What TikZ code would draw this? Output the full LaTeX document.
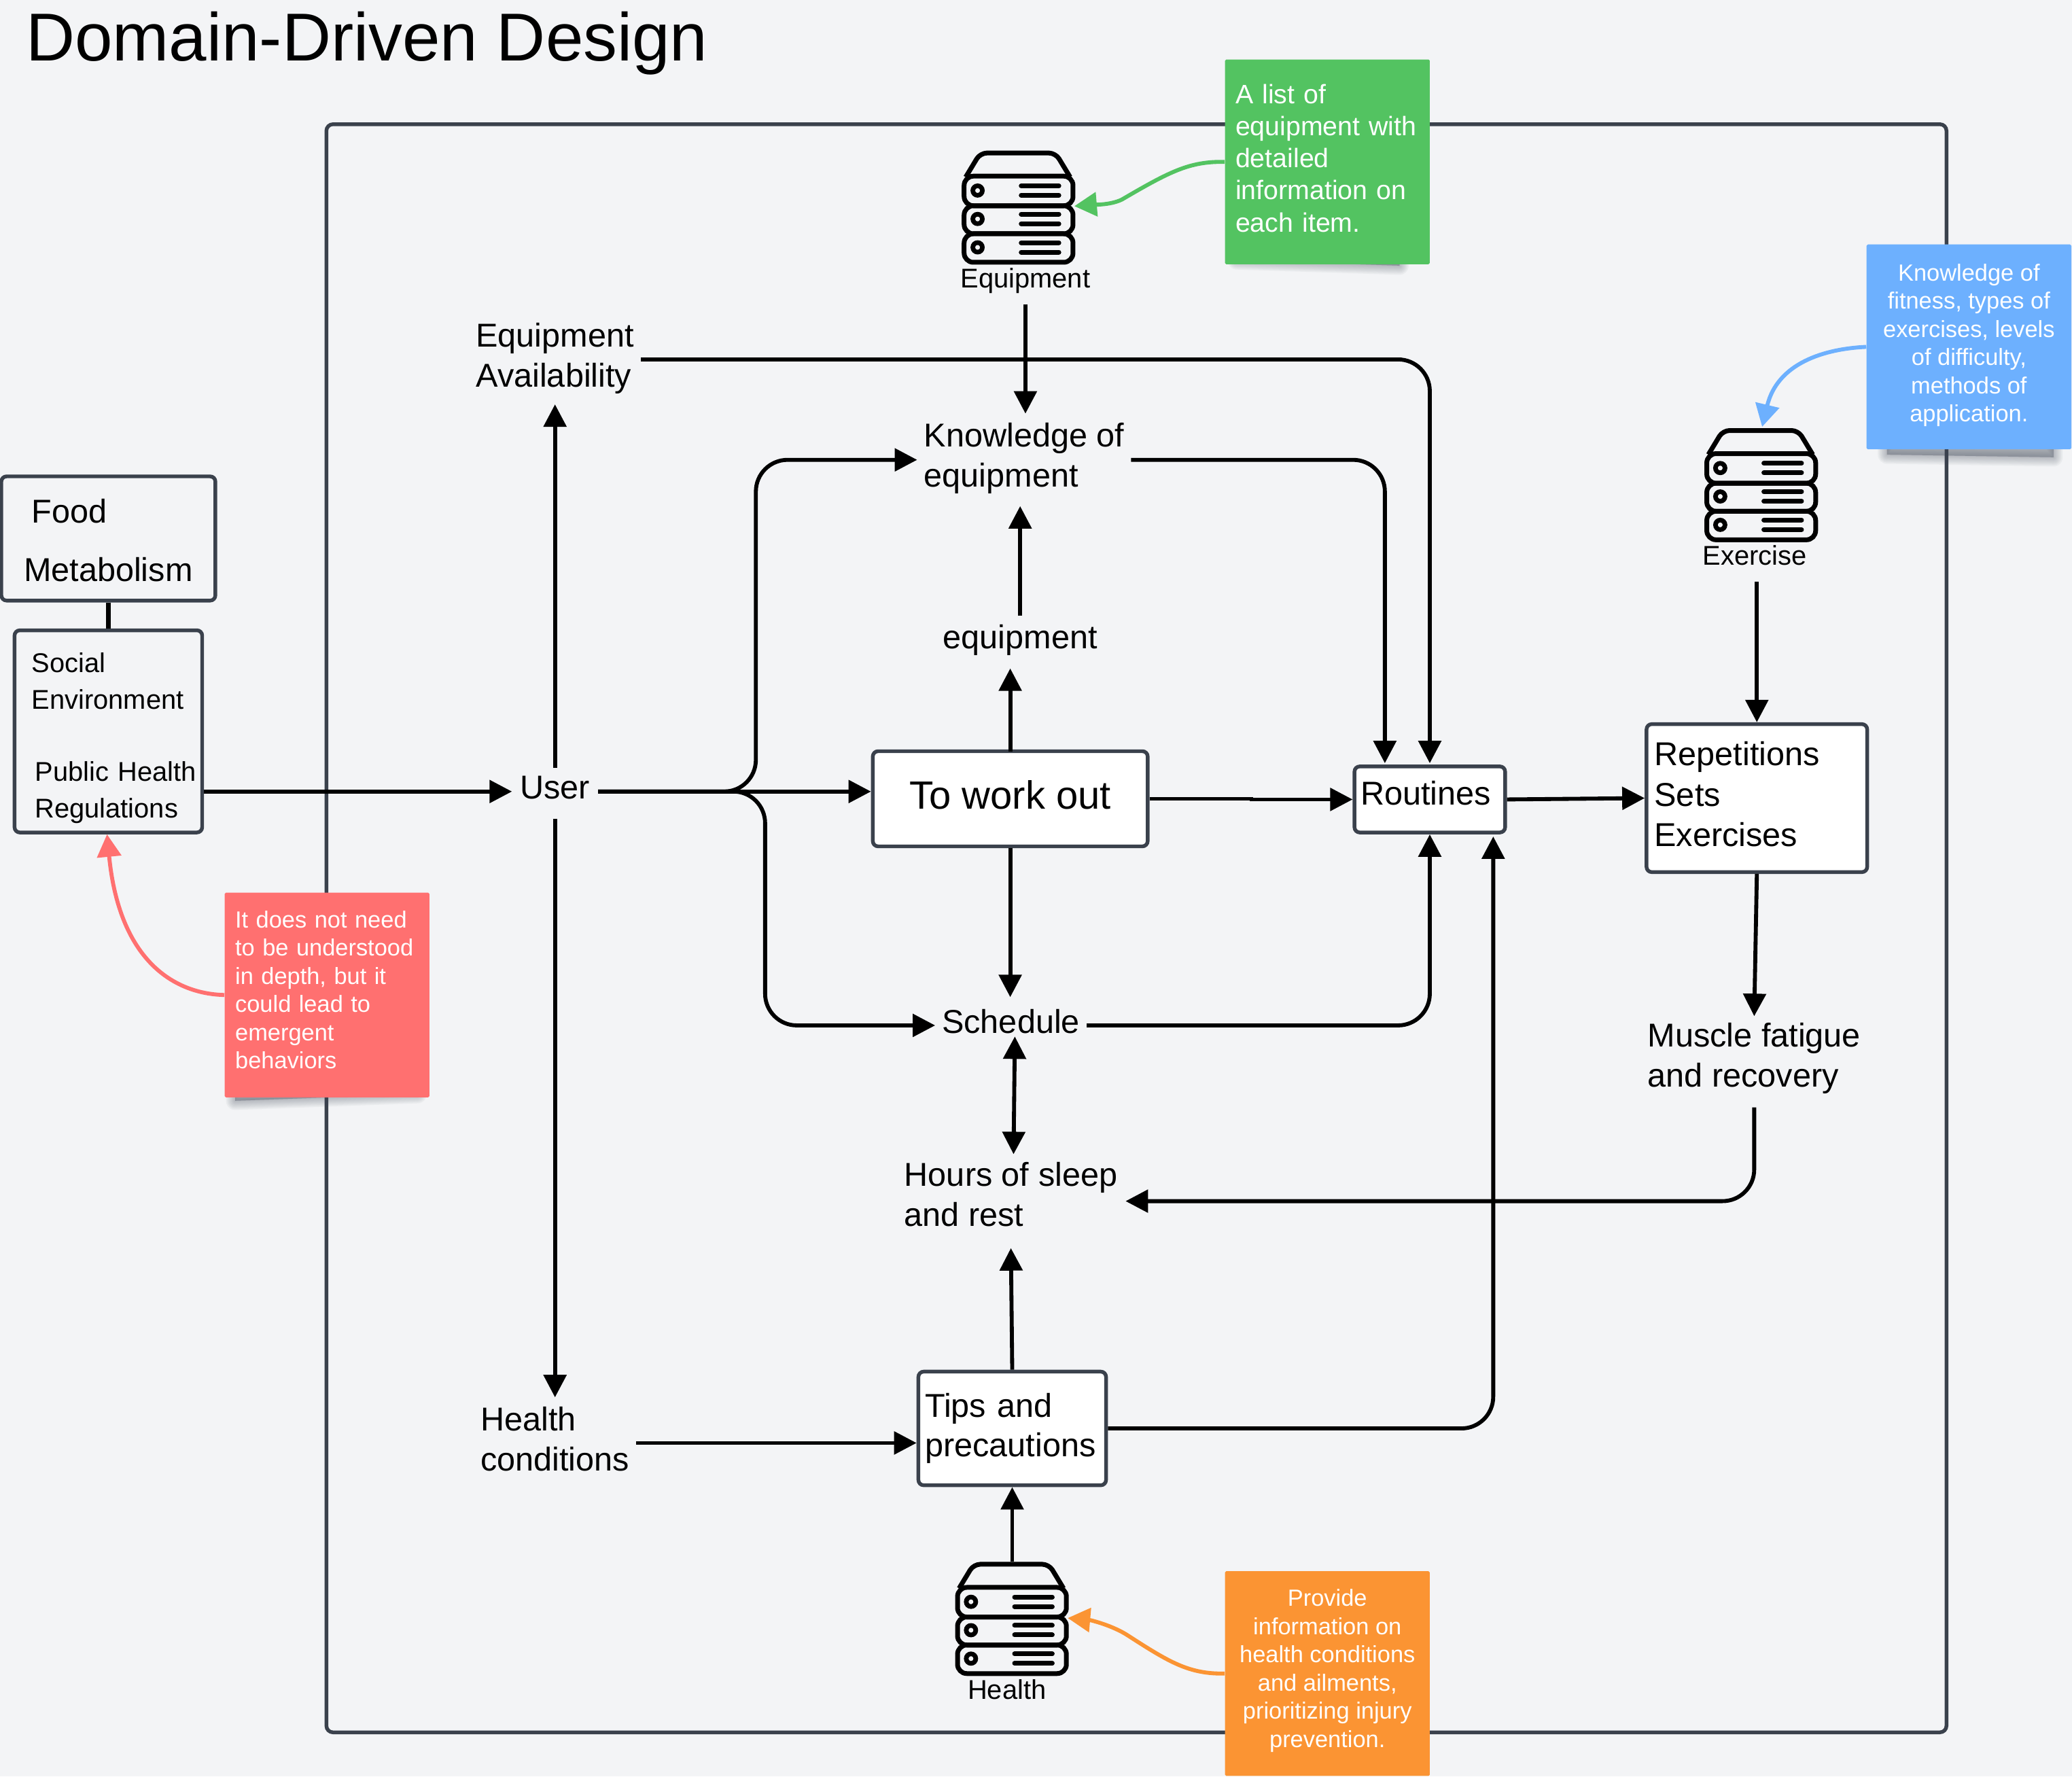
\documentclass[tikz,border=0pt]{standalone}
\usepackage{fontspec}
\setmainfont{Liberation Sans}
\usetikzlibrary{arrows.meta,calc}
\definecolor{bgc}{HTML}{F3F4F6}
\definecolor{framec}{HTML}{3A414C}
\definecolor{noteg}{HTML}{53C361}
\definecolor{noteb}{HTML}{6DB0FE}
\definecolor{noter}{HTML}{FF7070}
\definecolor{noteo}{HTML}{FB9433}
\definecolor{shadowc}{HTML}{4A5260}
\newcommand{\fsz}[2]{\fontsize{#1}{#2}\selectfont}
\newcommand{\dropdepth}[1]{\rule[-#1]{0pt}{1pt}}
\tikzset{
  conn/.style={line width=3pt,draw=black,-{Triangle[length=17pt,width=17pt]},rounded corners=24pt},
  plain/.style={line width=3.2pt,draw=black},
  both/.style={conn,{Triangle[length=17pt,width=17pt]}-{Triangle[length=17pt,width=17pt]}},
  lbl/.style={inner sep=0pt,align=left,font=\fsz{25}{30.3}},
  smalllbl/.style={inner sep=0pt,align=center,font=\fsz{20.5}{24}},
  boxn/.style={draw=framec,line width=2.8pt,rounded corners=4pt,fill=white,inner sep=0pt,align=left},
  hollow/.style={boxn,fill=bgc},
  note/.style={inner sep=0pt,minimum width=155pt,minimum height=155pt,text=white,rounded corners=1pt},
  notearrow/.style={line width=3pt,-{Triangle[length=17pt,width=18pt]}},
  pics/server/.style={code={
    \node[inner sep=0pt,minimum width=86pt,minimum height=86pt] (-body) at (43,43) {};
    \begin{scope}[line width=3.6pt,draw=black,line join=round]
      \draw[rounded corners=5pt] (3,20) -- (14,1.8) -- (71,1.8) -- (82,20);
      \draw[rounded corners=7pt] (1.8,19.3) rectangle (84.2,41.7);
      \draw[rounded corners=7pt] (1.8,41.7) rectangle (84.2,62.9);
      \draw[rounded corners=7pt] (1.8,62.9) rectangle (84.2,84.5);
    \end{scope}
    \foreach \yy in {30.2,51.7,73.2}{
      \draw[line width=3.5pt] (12,\yy) circle[radius=3.6pt];
      \draw[line width=3.6pt,line cap=round] (45,\yy-3.6) -- (73.5,\yy-3.6);
      \draw[line width=3.6pt,line cap=round] (45,\yy+3.6) -- (73.5,\yy+3.6);
    }
  }}
}
\newcommand{\softshadow}[1]{%
  \foreach \w in {14,12,10,8,6,4,2,0.5}{
    \draw[shadowc,fill=shadowc,line width=\w pt,line join=round,opacity=0.055] #1;
  }}
\begin{document}
\begin{tikzpicture}[x=1pt,y=-1pt]
\useasboundingbox (0,0) rectangle (1568,1344.3);
\fill[bgc] (0,0) rectangle (1568,1344.3);

% frame
\draw[framec,line width=2.8pt,rounded corners=5pt] (247,94) rectangle (1473,1311);

% title
\node[anchor=base west,inner sep=0pt,font=\fsz{51.3}{60}] (title) at (19.5,46) {Domain-Driven Design};

% note shadows
\softshadow{(936,190) -- (1059,190) -- (1059,201) -- (936,197) -- cycle}
\softshadow{(1428,330) -- (1554,330) -- (1554,346) -- (1428,344) -- cycle}
\softshadow{(178,820) -- (316,820) -- (316,828) -- (178,833) -- cycle}

% server icons
\pic (eqicon) at (727.8,114) {server};
\pic (exicon) at (1289.8,324) {server};
\pic (heicon) at (722.8,1182) {server};
\node[smalllbl,inner ysep=8pt] (eqlab) at (776,212.5) {Equipment};
\node[smalllbl,inner ysep=10pt] (exlab) at (1328,420.5) {Exercise};
\node[smalllbl] (helab) at (762,1278.5) {Health};

% labels
\node[lbl,inner xsep=5pt,inner ysep=8pt] (avail) at (420,271) {Equipment\\Availability};
\node[lbl,inner xsep=5pt,inner ysep=7pt] (know) at (775,347) {Knowledge of\\equipment};
\node[lbl,align=center,inner ysep=10pt,inner xsep=6pt] (equip) at (772,484.5) {equipment};
\node[lbl,align=center,inner ysep=16pt,inner xsep=6pt] (user) at (420,596) {User};
\node[lbl,align=center,inner xsep=5pt,inner ysep=11pt] (sched) at (765,773) {Schedule};
\node[lbl,inner xsep=6pt,inner ysep=9pt] (hours) at (765,904) {Hours of sleep\\and rest};
\node[lbl,inner xsep=5pt,inner ysep=6pt] (muscle) at (1327.5,801) {Muscle fatigue\\and recovery};
\node[lbl,inner xsep=5pt,inner ysep=6pt] (healthc) at (420,1089) {Health\\conditions};

% boxes
\node[boxn,minimum width=208pt,minimum height=72pt,align=center,font=\fsz{29.8}{34}] (work) at (764.5,604.5) {To work out\dropdepth{6pt}};
\node[boxn,minimum width=114pt,minimum height=50pt,align=center,font=\fsz{25}{30}] (rout) at (1082,605) {Routines\hspace*{6pt}\dropdepth{10pt}};
\node[boxn,text width=155pt,inner xsep=6pt,minimum height=112pt,font=\fsz{25}{30.5}] (reps) at (1329.5,604) {Repetitions\\Sets\\Exercises\dropdepth{6pt}};
\node[boxn,text width=132pt,inner xsep=5pt,minimum height=86pt,font=\fsz{25}{30}] (tips) at (766,1081) {Tips and\\precautions};
\node[hollow,minimum width=162pt,minimum height=94pt,text width=128pt,inner xsep=17pt,font=\fsz{25}{44}] (food) at (82,407.5) {\hspace*{6pt}Food\rule{0pt}{21pt}\\Metabolism};
\node[hollow,minimum width=142pt,minimum height=153pt,text width=135pt,inner xsep=3.5pt,font=\fsz{20.5}{27.5}] (social) at (82,553.5) {\hspace*{9.5pt}Social\rule{0pt}{25pt}\\\hspace*{9.5pt}Environment\\[27.5pt]\hspace*{12pt}Public Health\\\hspace*{12pt}Regulations};

% connectors
\draw[conn] (eqlab.south) -- (know.north -| eqlab.south);
\draw[conn] ([yshift=-1pt]avail.east) -- (1082,272) -- ([yshift=1pt]rout.north);
\draw[conn] ([yshift=-10pt]user.north) -- (avail.south -| user.north);
\draw[conn] ([yshift=1pt]user.south) -- ([yshift=1pt]healthc.north -| user.south);
\draw[conn] (social.east |- 0,599) -- ([yshift=-3pt]user.west);
\draw[conn] ([yshift=-3pt]user.east) -- (work.west |- 0,599);
\draw[conn] ([yshift=-3pt]user.east) -- (572,599) -- (572,348) -- (know.west |- 0,348);
\draw[conn] ([yshift=-3pt]user.east) -- (579,599) -- (579,776) -- ([yshift=-3pt]sched.west);
\draw[conn] ([yshift=-1.5pt]work.north) -- ([yshift=0.5pt]equip.south -| work.north);
\draw[conn] ([yshift=-3.5pt]equip.north) -- ([yshift=-2pt]know.south -| equip.north);
\draw[conn,rounded corners=0pt] (work.east) -- (947,604.5) -- (947,605) -- (rout.west);
\draw[conn] (work.south) -- ([yshift=-2pt]sched.north -| work.south);
\draw[conn] ([yshift=-3pt]sched.east) -- (1082,776) -- (rout.south);
\draw[conn] ([yshift=-1pt]know.east) -- (1048,348) -- ([yshift=1pt]rout.north -| 1048,0);
\draw[conn] (rout.east) -- (reps.west);
\draw[conn] ([yshift=-2pt]exlab.south -| reps.north) -- (reps.north);
\draw[conn] (reps.south) -- ([yshift=-1pt]muscle.north);
\draw[conn] ([yshift=-4pt]muscle.south) -- (1327.5,909) -- ([yshift=-5pt]hours.east);
\draw[both] ([xshift=3pt,yshift=9pt]sched.south) -- ([xshift=2pt,yshift=-3pt]hours.north);
\draw[conn] (tips.north) -- ([yshift=-7pt]hours.south);
\draw[conn] (tips.east) -- (1130,1081) -- (1130,633);
\draw[conn] ([yshift=-3pt]healthc.east) -- ([yshift=-11pt]tips.west);
\draw[conn] (heicon-body.north -| tips.south) -- (tips.south);
\draw[plain] (food.south) -- (social.north);

% notes
\node[note,fill=noteg,font=\fsz{20.2}{24.3},align=left,text width=139pt] (ng) at (1004.5,122.5) {A list of\\equipment with\\detailed\\information on\\each item.\dropdepth{6pt}};
\node[note,fill=noteb,font=\fsz{17.7}{21.3},align=center] (nb) at (1490,262.5) {Knowledge of\\fitness, types of\\exercises, levels\\of difficulty,\\methods of\\application.\dropdepth{6pt}};
\node[note,fill=noter,font=\fsz{17.7}{21.3},align=left,text width=139pt] (nr) at (247.5,753) {It does not need\\to be understood\\in depth, but it\\could lead to\\emergent\\behaviors\dropdepth{8pt}};
\node[note,fill=noteo,font=\fsz{17.7}{21.3},align=center] (no) at (1004.5,1266.5) {Provide\\information on\\health conditions\\and ailments,\\prioritizing injury\\prevention.\dropdepth{8pt}};

\draw[notearrow,noteg] (ng.west) .. controls (900,122) and (885,130) .. (849,151) .. controls (840,155.5) and (825,155) .. ([xshift=-1pt]eqicon-body.east |- 0,156);
\draw[notearrow,noteb] (nb.west) .. controls (1380,264) and (1345,275) .. (1333.5,323);
\draw[notearrow,noter] (nr.west) .. controls (130,752) and (90,725) .. ([xshift=-1pt]social.south);
\draw[notearrow,noteo] (no.west) .. controls (900,1267) and (885,1258) .. (854,1238) .. controls (842,1230) and (825,1226) .. ([xshift=-1pt]heicon-body.east |- 0,1224.5);
\end{tikzpicture}
\end{document}
